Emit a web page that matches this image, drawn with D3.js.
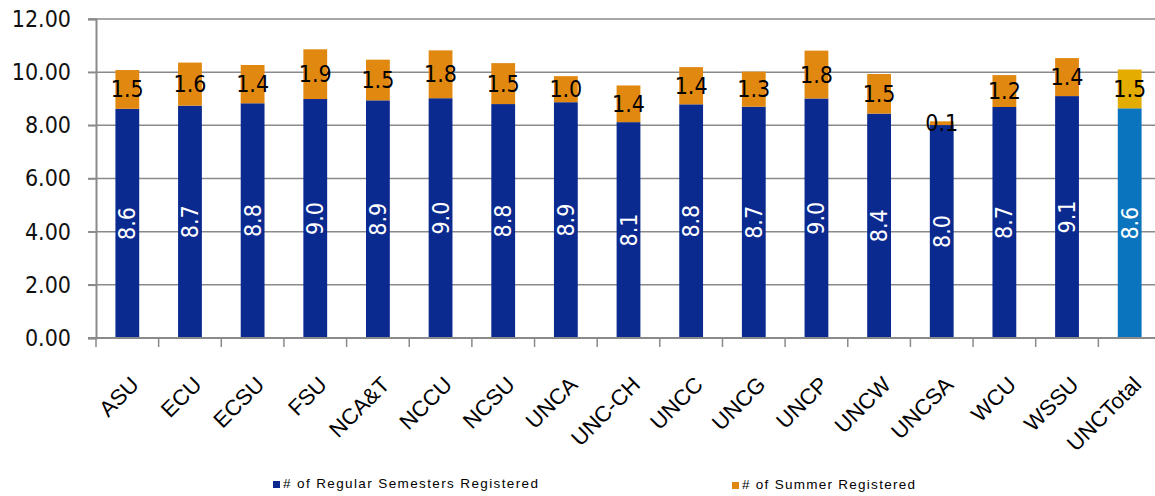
<!DOCTYPE html>
<html>
<head>
<meta charset="utf-8">
<script src="https://cdn.jsdelivr.net/npm/d3@7"></script>
<style>
  html, body { margin: 0; padding: 0; background: #fff; }
  svg { display: block; }
</style>
</head>
<body>
<svg id="chart" width="1155" height="496"></svg>
<script>
const categories = ["ASU","ECU","ECSU","FSU","NCA&T","NCCU","NCSU","UNCA","UNC-CH","UNCC","UNCG","UNCP","UNCW","UNCSA","WCU","WSSU","UNCTotal"];
const regularValues = [8.62, 8.74, 8.83, 8.99, 8.94, 9.02, 8.80, 8.87, 8.12, 8.79, 8.70, 9.01, 8.44, 8.01, 8.69, 9.10, 8.64];
const summerValues  = [1.46, 1.62, 1.44, 1.87, 1.53, 1.80, 1.54, 0.98, 1.38, 1.40, 1.32, 1.80, 1.49, 0.14, 1.20, 1.43, 1.46];
const yTicks = [0, 2, 4, 6, 8, 10, 12];
const seriesNames = ["# of Regular Semesters Registered", "# of Summer Registered"];

const colRegular = "#0B2A8F", colSummer = "#E08810";
const colRegularTotal = "#0A74BE", colSummerTotal = "#E4AC00";
const gridCol = "#8A8A8A";
const numFont = "'DejaVu Sans Condensed', 'DejaVu Sans', sans-serif";
const txtFont = "'Liberation Sans', Arial, sans-serif";

const svg = d3.select("#chart");
svg.append("rect").attr("width", 1155).attr("height", 496).attr("fill", "#fff");

const x0 = 96, x1 = 1161, yTop = 19, yBot = 338;
const pIn = 0.62;
const x = d3.scaleBand().domain(categories).range([x0, x1]).paddingInner(pIn).paddingOuter(pIn / 2);
const y = d3.scaleLinear().domain([0, 12]).range([yBot, yTop]);
const step = x.step(), bw = x.bandwidth();

// gridlines
svg.append("g").selectAll("line").data(yTicks.filter(d => d > 0)).join("line")
  .attr("x1", x0 - 8).attr("x2", 1160)
  .attr("y1", d => y(d)).attr("y2", d => y(d))
  .attr("stroke", gridCol).attr("stroke-width", 1.5);

// y axis
const yAxis = d3.axisLeft(y).tickValues(yTicks).tickSize(8).tickPadding(17).tickFormat(d3.format(".2f"));
const gy = svg.append("g").attr("transform", `translate(${x0},0)`).call(yAxis);
gy.select(".domain").attr("stroke", gridCol).attr("stroke-width", 2);
gy.selectAll(".tick line").attr("stroke", gridCol).attr("stroke-width", 1.5);
gy.selectAll(".tick text").attr("font-family", numFont).attr("font-size", 23).attr("fill", "#111");

// bars
const data = categories.map((c, i) => ({ c, r: regularValues[i], s: summerValues[i], total: c === "UNCTotal" }));
const g = svg.append("g");
g.selectAll("rect.reg").data(data).join("rect").attr("class", "reg")
  .attr("x", d => x(d.c)).attr("width", bw)
  .attr("y", d => y(d.r)).attr("height", d => y(0) - y(d.r))
  .attr("fill", d => d.total ? colRegularTotal : colRegular);
g.selectAll("rect.sum").data(data).join("rect").attr("class", "sum")
  .attr("x", d => x(d.c)).attr("width", bw)
  .attr("y", d => y(d.r + d.s)).attr("height", d => y(d.r) - y(d.r + d.s))
  .attr("fill", d => d.total ? colSummerTotal : colSummer);

// x axis
const boundaries = d3.range(categories.length + 1).map(i => x0 + i * step);
svg.append("g").selectAll("line").data(boundaries).join("line")
  .attr("x1", d => d).attr("x2", d => d).attr("y1", yBot).attr("y2", yBot + 9)
  .attr("stroke", gridCol).attr("stroke-width", 1.5);
svg.append("line").attr("x1", x0 - 8).attr("x2", 1160).attr("y1", yBot).attr("y2", yBot)
  .attr("stroke", gridCol).attr("stroke-width", 2);

// value labels - regular (rotated, white)
g.selectAll("text.rl").data(data).join("text").attr("class", "rl")
  .attr("transform", d => `translate(${x(d.c) + bw / 2},${(y(d.r) + y(0)) / 2}) rotate(-90)`)
  .attr("text-anchor", "middle").attr("dominant-baseline", "central")
  .attr("font-family", numFont).attr("font-size", 23).attr("fill", "#fff")
  .text(d => d3.format(".1f")(d.r));

// value labels - summer
g.selectAll("text.sl").data(data).join("text").attr("class", "sl")
  .attr("x", d => x(d.c) + bw / 2).attr("y", d => (y(d.r) + y(d.r + d.s)) / 2)
  .attr("text-anchor", "middle").attr("dominant-baseline", "central")
  .attr("font-family", numFont).attr("font-size", 23).attr("fill", "#000")
  .text(d => d3.format(".1f")(d.s));

// category labels
svg.append("g").selectAll("text").data(categories).join("text")
  .attr("transform", d => `translate(${x(d) + bw / 2 + 13},${386}) rotate(-45)`)
  .attr("text-anchor", "end")
  .attr("font-family", txtFont).attr("font-size", 22).attr("fill", "#000")
  .text(d => d);

// legend
const legend = [
  { name: seriesNames[0], color: colRegular, sx: 273, tx: 283, tw: 255, by: 488 },
  { name: seriesNames[1], color: colSummer, sx: 732, tx: 742, tw: 173, by: 489 }
];
const lg = svg.append("g");
lg.selectAll("rect").data(legend).join("rect")
  .attr("x", d => d.sx).attr("y", d => d.by - 7).attr("width", 7).attr("height", 7)
  .attr("fill", d => d.color);
lg.selectAll("text").data(legend).join("text")
  .attr("x", d => d.tx).attr("y", d => d.by)
  .attr("font-family", txtFont).attr("font-size", 13.5).attr("fill", "#000")
  .attr("textLength", d => d.tw).attr("lengthAdjust", "spacing")
  .text(d => d.name);
</script>
</body>
</html>
